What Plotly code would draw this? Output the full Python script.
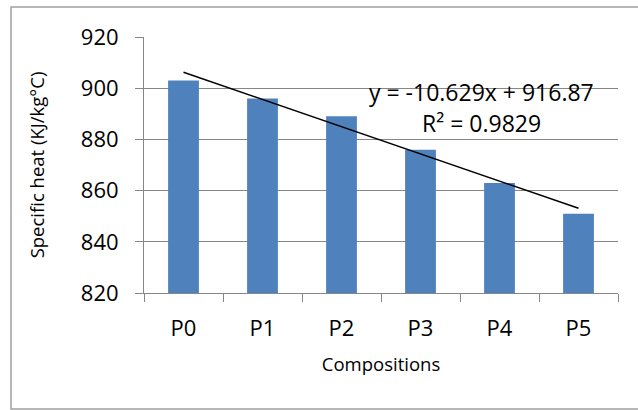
import numpy as np
import plotly.graph_objects as go

categories = ["P0", "P1", "P2", "P3", "P4", "P5"]
specific_heat = [903, 896, 889, 876, 863, 851]
y_ticks = [820, 840, 860, 880, 900, 920]

xs = np.arange(1, len(categories) + 1)
slope, intercept = np.polyfit(xs, specific_heat, 1)
pred = slope * xs + intercept
ss_res = np.sum((np.array(specific_heat) - pred) ** 2)
ss_tot = np.sum((np.array(specific_heat) - np.mean(specific_heat)) ** 2)
r2 = 1 - ss_res / ss_tot

FONT = "Open Sans"
fig = go.Figure()
fig.add_trace(go.Bar(x=categories, y=specific_heat, marker=dict(color="#4F81BD", line=dict(width=0)),
                     showlegend=False))
fig.add_trace(go.Scatter(x=categories, y=pred, mode="lines", line=dict(color="black", width=1.5),
                         showlegend=False))

fig.update_layout(
    width=638, height=410,
    margin=dict(l=144, r=20, t=37, b=117),
    paper_bgcolor="white", plot_bgcolor="white",
    bargap=0.61,
    font=dict(family=FONT, color="black"),
    xaxis=dict(
        type="category", tickson="boundaries", ticks="outside", ticklen=8, tickcolor="#868686",
        showline=True, linecolor="#868686", linewidth=1, showgrid=False,
        tickfont=dict(size=22, family=FONT), ticklabelstandoff=16,
        title=dict(text="Compositions", font=dict(size=18.5, family=FONT), standoff=16),
    ),
    yaxis=dict(
        range=[820, 920], tickvals=y_ticks, ticks="outside", ticklen=8, tickcolor="#868686",
        showline=True, linecolor="#868686", linewidth=1,
        showgrid=True, gridcolor="#868686", gridwidth=1,
        tickfont=dict(size=22, family=FONT), ticklabelstandoff=12,
        title=dict(text="Specific heat (KJ/kg°C)", font=dict(size=18.5, family=FONT), standoff=31),
    ),
    shapes=[dict(type="rect", xref="paper", yref="paper",
                 x0=(11 - 144) / 474, x1=(645 - 144) / 474,
                 y0=(293 - 409) / 256, y1=(293 - 7) / 256,
                 line=dict(color="#A0A0A0", width=1.5), fillcolor="rgba(0,0,0,0)", layer="below")],
    annotations=[
        dict(x=0.711, y=898.5, xref="paper", yref="y", xanchor="center", showarrow=False,
             text=f"y = {slope:.3f}x + {intercept:.2f}", font=dict(size=23, family=FONT)),
        dict(x=0.711, y=886.4, xref="paper", yref="y", xanchor="center", showarrow=False,
             text=f"R² = {r2:.4f}", font=dict(size=23, family=FONT)),
    ],
)

fig.write_html("out.html", config={"displayModeBar": False},
               post_script="document.body.style.margin='0';")
